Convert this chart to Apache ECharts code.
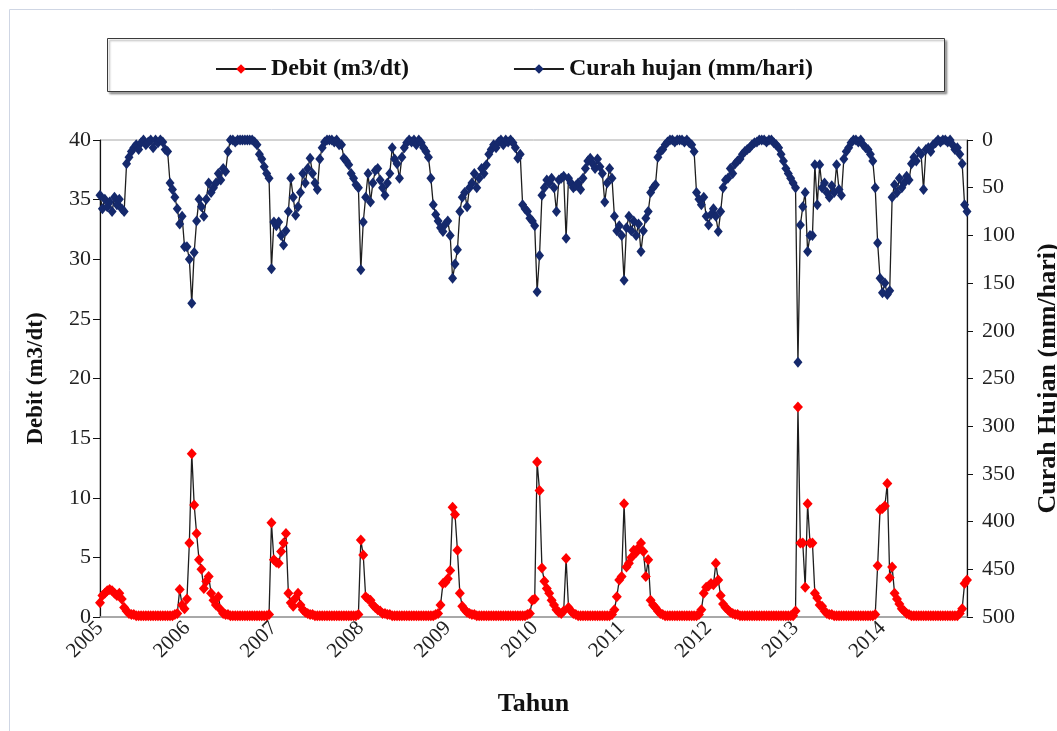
<!DOCTYPE html>
<html>
<head>
<meta charset="utf-8">
<title>Debit dan Curah Hujan 2005-2014</title>
<script src="https://cdn.jsdelivr.net/npm/echarts@6/dist/echarts.min.js"></script>
<style>
  html, body { margin: 0; padding: 0; background: #fff; }
  #chart { width: 1057px; height: 731px; }
</style>
</head>
<body>
<div id="chart"></div>
<script>
// tahun (label sumbu x), 36 dasarian per tahun
var years = ['2005', '2006', '2007', '2008', '2009', '2010', '2011', '2012', '2013', '2014'];

// curah hujan (mm/hari) per dasarian
var rain2005 = [58, 72, 62, 70, 65, 75, 60, 68, 62, 72, 75, 25, 18, 12, 8, 5, 10, 3, 0, 5, 2, 0, 8, 0, 3, 0, 2, 10, 12, 45, 52, 60, 72, 88, 80, 112];
var rain2006 = [112, 125, 171, 118, 85, 62, 70, 80, 62, 45, 55, 50, 45, 35, 42, 30, 33, 12, 0, 0, 2, 0, 0, 0, 0, 0, 0, 0, 2, 5, 15, 20, 28, 35, 40, 135];
var rain2007 = [86, 90, 86, 100, 110, 95, 75, 40, 60, 79, 70, 55, 35, 45, 30, 19, 35, 45, 52, 20, 8, 2, 0, 0, 0, 2, 0, 5, 5, 19, 22, 26, 35, 40, 47, 50];
var rain2008 = [136, 86, 60, 35, 65, 45, 32, 30, 42, 50, 58, 45, 35, 8, 20, 25, 40, 18, 8, 3, 0, 2, 0, 5, 0, 3, 8, 12, 18, 40, 68, 78, 85, 92, 96, 88];
var rain2009 = [85, 100, 145, 130, 115, 75, 60, 55, 70, 50, 45, 35, 50, 40, 30, 35, 26, 15, 10, 5, 8, 2, 0, 5, 0, 2, 0, 3, 8, 19, 15, 68, 72, 75, 82, 85];
var rain2010 = [90, 159, 121, 58, 50, 42, 45, 40, 50, 75, 42, 40, 38, 103, 40, 45, 50, 48, 45, 52, 40, 30, 22, 19, 25, 30, 20, 28, 35, 65, 45, 30, 40, 80, 95, 90];
var rain2011 = [100, 147, 92, 80, 95, 85, 100, 88, 117, 95, 82, 75, 55, 50, 47, 18, 12, 10, 5, 2, 0, 0, 2, 0, 0, 0, 2, 0, 3, 5, 12, 55, 62, 68, 60, 80];
var rain2012 = [89, 78, 72, 80, 96, 75, 50, 42, 40, 30, 35, 25, 22, 20, 15, 12, 10, 8, 5, 3, 2, 0, 0, 0, 2, 0, 0, 3, 5, 8, 15, 22, 30, 35, 40, 45];
var rain2013 = [50, 233, 89, 70, 55, 117, 100, 100, 26, 68, 26, 50, 45, 55, 60, 48, 55, 26, 52, 58, 20, 12, 8, 3, 0, 0, 2, 0, 5, 8, 10, 15, 22, 50, 108, 145];
var rain2014 = [160, 150, 162, 158, 60, 47, 55, 40, 50, 45, 38, 42, 25, 18, 22, 12, 15, 52, 10, 8, 12, 5, 3, 0, 2, 0, 0, 2, 0, 5, 10, 8, 15, 25, 68, 75];

// debit (m3/dt) per dasarian
var debit2005 = [1.2, 1.8, 2.0, 2.2, 2.3, 2.2, 2.0, 1.8, 2.0, 1.5, 0.8, 0.5, 0.3, 0.2, 0.2, 0.1, 0.1, 0.1, 0.1, 0.1, 0.1, 0.1, 0.1, 0.1, 0.1, 0.1, 0.1, 0.1, 0.1, 0.1, 0.1, 0.2, 0.3, 2.3, 1.0, 0.7];
var debit2006 = [1.5, 6.2, 13.7, 9.4, 7.0, 4.8, 4.0, 2.4, 3.0, 3.4, 2.0, 1.4, 1.0, 1.7, 0.6, 0.3, 0.2, 0.2, 0.1, 0.1, 0.1, 0.1, 0.1, 0.1, 0.1, 0.1, 0.1, 0.1, 0.1, 0.1, 0.1, 0.1, 0.1, 0.1, 0.2, 7.9];
var debit2007 = [4.8, 4.6, 4.5, 5.5, 6.2, 7.0, 2.0, 1.2, 0.9, 1.6, 2.0, 1.0, 0.6, 0.4, 0.3, 0.2, 0.2, 0.1, 0.1, 0.1, 0.1, 0.1, 0.1, 0.1, 0.1, 0.1, 0.1, 0.1, 0.1, 0.1, 0.1, 0.1, 0.1, 0.1, 0.1, 0.2];
var debit2008 = [6.45, 5.2, 1.7, 1.5, 1.4, 1.0, 0.8, 0.6, 0.5, 0.3, 0.3, 0.2, 0.2, 0.1, 0.1, 0.1, 0.1, 0.1, 0.1, 0.1, 0.1, 0.1, 0.1, 0.1, 0.1, 0.1, 0.1, 0.1, 0.1, 0.1, 0.1, 0.2, 0.3, 1.0, 2.8, 2.9];
var debit2009 = [3.2, 3.9, 9.2, 8.6, 5.6, 2.0, 0.9, 0.6, 0.4, 0.3, 0.2, 0.2, 0.1, 0.1, 0.1, 0.1, 0.1, 0.1, 0.1, 0.1, 0.1, 0.1, 0.1, 0.1, 0.1, 0.1, 0.1, 0.1, 0.1, 0.1, 0.1, 0.1, 0.1, 0.2, 0.3, 1.4];
var debit2010 = [1.5, 13.0, 10.6, 4.1, 3.0, 2.4, 2.0, 1.4, 1.0, 0.6, 0.4, 0.3, 0.5, 4.9, 0.8, 0.5, 0.3, 0.2, 0.1, 0.1, 0.1, 0.1, 0.1, 0.1, 0.1, 0.1, 0.1, 0.1, 0.1, 0.1, 0.1, 0.1, 0.2, 0.6, 1.7, 3.1];
var debit2011 = [3.4, 9.5, 4.2, 4.5, 5.0, 5.6, 5.4, 5.8, 6.2, 5.5, 3.4, 4.8, 1.4, 1.0, 0.8, 0.5, 0.3, 0.2, 0.1, 0.1, 0.1, 0.1, 0.1, 0.1, 0.1, 0.1, 0.1, 0.1, 0.1, 0.1, 0.1, 0.1, 0.2, 0.6, 2.0, 2.5];
var debit2012 = [2.6, 2.8, 2.7, 4.5, 3.1, 1.8, 1.1, 0.8, 0.6, 0.4, 0.3, 0.2, 0.2, 0.1, 0.1, 0.1, 0.1, 0.1, 0.1, 0.1, 0.1, 0.1, 0.1, 0.1, 0.1, 0.1, 0.1, 0.1, 0.1, 0.1, 0.1, 0.1, 0.1, 0.1, 0.1, 0.1];
var debit2013 = [0.5, 17.6, 6.2, 6.2, 2.5, 9.5, 6.2, 6.2, 2.0, 1.6, 1.0, 0.9, 0.5, 0.3, 0.2, 0.2, 0.1, 0.1, 0.1, 0.1, 0.1, 0.1, 0.1, 0.1, 0.1, 0.1, 0.1, 0.1, 0.1, 0.1, 0.1, 0.1, 0.1, 0.2, 4.3, 9.0];
var debit2014 = [9.1, 9.3, 11.2, 3.3, 4.2, 2.0, 1.5, 1.1, 0.7, 0.5, 0.3, 0.2, 0.1, 0.1, 0.1, 0.1, 0.1, 0.1, 0.1, 0.1, 0.1, 0.1, 0.1, 0.1, 0.1, 0.1, 0.1, 0.1, 0.1, 0.1, 0.1, 0.1, 0.3, 0.7, 2.8, 3.1];

var rain = [].concat(rain2005, rain2006, rain2007, rain2008, rain2009, rain2010, rain2011, rain2012, rain2013, rain2014);
var debit = [].concat(debit2005, debit2006, debit2007, debit2008, debit2009, debit2010, debit2011, debit2012, debit2013, debit2014);

var categories = [];
years.forEach(function (y) {
    for (var d = 1; d <= 36; d++) {
        categories.push(y + '-' + d);
    }
});

var serif = 'Liberation Serif';
var chart = echarts.init(document.getElementById('chart'));

var option = {
    animation: false,
    backgroundColor: '#ffffff',
    textStyle: { fontFamily: serif },
    graphic: [
        {
            type: 'rect',
            shape: { x: 9.5, y: 9.5, width: 1100, height: 800 },
            style: { fill: null, stroke: '#cfd6e4', lineWidth: 1 },
            z: -10
        },
        {
            type: 'rect',
            shape: { x: 107.5, y: 38.5, width: 837, height: 53 },
            style: {
                fill: '#ffffff', stroke: '#3a3a3a', lineWidth: 1,
                shadowColor: 'rgba(0,0,0,0.35)', shadowOffsetX: 2, shadowOffsetY: 2, shadowBlur: 2
            },
            z: -5
        }
    ],
    legend: {
        top: 52,
        left: 210,
        itemGap: 104,
        itemWidth: 50,
        itemHeight: 12,
        textStyle: { fontFamily: serif, fontWeight: 'bold', fontSize: 24, color: '#111' },
        data: ['Debit (m3/dt)', 'Curah hujan (mm/hari)']
    },
    grid: {
        left: 100,
        right: 90,
        top: 140,
        bottom: 114,
        outerBoundsMode: 'none',
        containLabel: false,
        show: true,
        borderColor: '#a8a8a8',
        borderWidth: 1
    },
    xAxis: {
        type: 'category',
        data: categories,
        boundaryGap: false,
        name: 'Tahun',
        nameLocation: 'middle',
        nameGap: 74,
        nameTextStyle: { fontFamily: serif, fontWeight: 'bold', fontSize: 26, color: '#111' },
        axisLine: { lineStyle: { color: '#9a9a9a', width: 1.5 } },
        axisTick: { show: false },
        axisLabel: {
            interval: 35,
            rotate: 45,
            margin: 8,
            fontFamily: serif,
            fontSize: 21,
            color: '#222',
            formatter: function (v) { return v.split('-')[0]; }
        },
        splitLine: { show: false }
    },
    yAxis: [
        {
            type: 'value',
            position: 'left',
            min: 0,
            max: 40,
            interval: 5,
            name: 'Debit (m3/dt)',
            nameLocation: 'middle',
            nameGap: 52,
            nameRotate: 90,
            nameTextStyle: { fontFamily: serif, fontWeight: 'bold', fontSize: 23, color: '#111' },
            axisLine: { show: true, lineStyle: { color: '#111', width: 1.2 } },
            axisTick: { show: true, length: 7, lineStyle: { color: '#111' } },
            axisLabel: { fontFamily: serif, fontSize: 22, color: '#222', margin: 9 },
            splitLine: { show: false }
        },
        {
            type: 'value',
            position: 'right',
            inverse: true,
            min: 0,
            max: 500,
            interval: 50,
            name: 'Curah Hujan (mm/hari)',
            nameLocation: 'middle',
            nameGap: 68,
            nameRotate: 90,
            nameTextStyle: { fontFamily: serif, fontWeight: 'bold', fontSize: 26, color: '#111' },
            axisLine: { show: true, lineStyle: { color: '#111', width: 1.2 } },
            axisTick: { show: true, length: 6, lineStyle: { color: '#111' } },
            axisLabel: { fontFamily: serif, fontSize: 22, color: '#222', margin: 15 },
            splitLine: { show: false }
        }
    ],
    series: [
        {
            name: 'Debit (m3/dt)',
            type: 'line',
            yAxisIndex: 0,
            data: debit,
            symbol: 'diamond',
            symbolSize: [10, 11],
            showAllSymbol: true,
            clip: false,
            lineStyle: { color: '#1e1e1e', width: 1.3 },
            itemStyle: { color: '#ff0000' }
        },
        {
            name: 'Curah hujan (mm/hari)',
            type: 'line',
            yAxisIndex: 1,
            data: rain,
            symbol: 'diamond',
            symbolSize: [9, 11],
            showAllSymbol: true,
            clip: false,
            lineStyle: { color: '#1e1e1e', width: 1.3 },
            itemStyle: { color: '#15296c' }
        }
    ]
};

chart.setOption(option);
</script>
</body>
</html>
